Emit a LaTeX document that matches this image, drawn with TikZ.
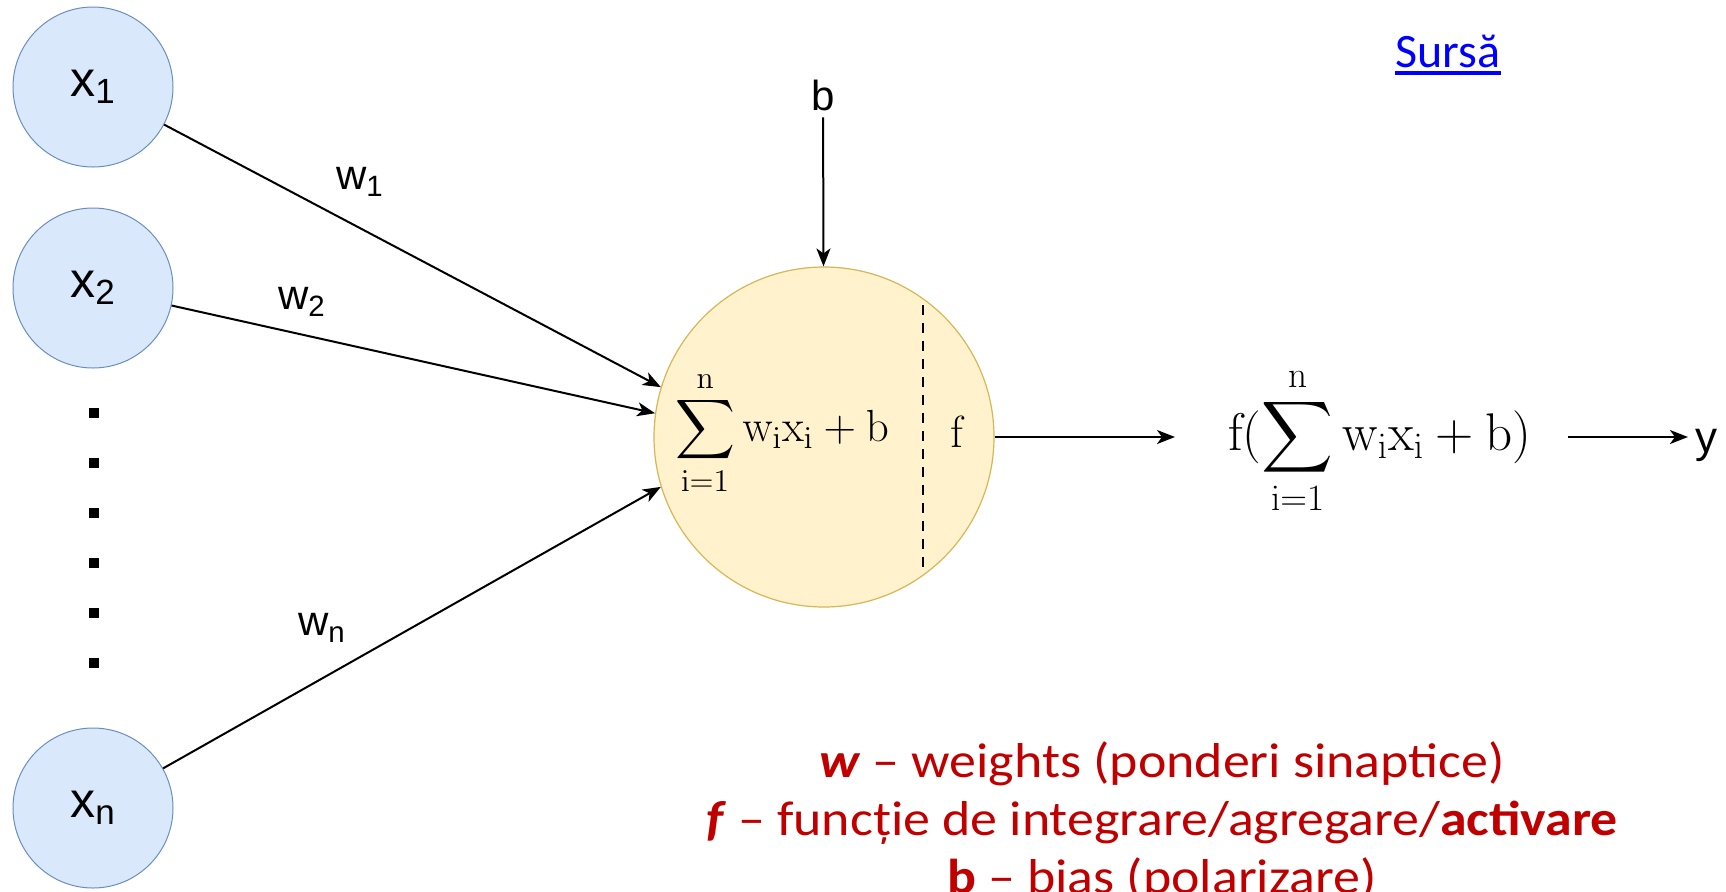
\documentclass[tikz,border=0pt]{standalone}
\usepackage{fix-cm}
\usepackage{exscale}
\usepackage[no-math]{fontspec}
\setmainfont{Liberation Sans}
\newfontfamily\calibri{Carlito}
\newfontfamily\notefont[FakeStretch=1.1]{Carlito}
\usetikzlibrary{positioning, arrows.meta}
\definecolor{inblue}{HTML}{DAE8FC}
\definecolor{inblueedge}{HTML}{6C8EBF}
\definecolor{sumfill}{HTML}{FFF2CC}
\definecolor{sumedge}{HTML}{D6B656}
\definecolor{notered}{HTML}{C00000}
\definecolor{linkblue}{HTML}{0000FF}

\tikzset{
  input/.style={circle, fill=inblue, draw=inblueedge, line width=0.5pt,
    minimum size=80pt, inner sep=0pt, font=\fontsize{25}{30}\selectfont},
  neuron/.style={circle, fill=sumfill, draw=sumedge, line width=0.6pt,
    minimum size=170pt, inner sep=0pt},
  wire/.style={line width=1pt, -{Stealth[length=9pt, width=7pt, inset=2.5pt]}},
  wlabel/.style={font=\fontsize{21}{25}\selectfont},
  note/.style={font=\notefont\fontsize{24.5}{30}\selectfont, text=notered, inner sep=0pt, anchor=base},
}

\begin{document}
\begin{tikzpicture}[x=0.5pt, y=-0.5pt]
  \useasboundingbox (0,0) rectangle (1726,891);

  % INPUTS
  \node[input] (x1) at (93,87)  {x\textsubscript{1}};
  \node[input] (x2) at (93,288) {x\textsubscript{2}};
  \node[input] (xn) at (93,808) {x\textsubscript{n}};
  % vertical dots
  \foreach \y in {413,463,...,663}
    \fill (89,\y-5) rectangle (99,\y+5);

  % NEURON: sum | f
  \node[neuron] (sum) at (824,437) {};
  \draw[line width=1pt, dash pattern=on 5pt off 4pt] (923,305) -- (923,572);
  \node[font=\fontsize{22.5}{27}\selectfont] (sumtxt) at (782,433)
    {$\displaystyle\sum_{\mathrm{i}=1}^{\mathrm{n}}\mathrm{w}_{\mathrm{i}}\mathrm{x}_{\mathrm{i}}+\mathrm{b}$};
  \node[font=\fontsize{22.5}{27}\selectfont] (act) at (958,432) {$\mathrm{f}$};

  % weighted inputs
  \draw[wire] (x1) -- (sum.163);
  \draw[wire] (x2) -- (sum.172);
  \draw[wire] (xn) -- (sum.197);
  \node[wlabel] (w1) at (360,182) {w\textsubscript{1}};
  \node[wlabel] (w2) at (302,302) {w\textsubscript{2}};
  \node[wlabel] (wn) at (322,628) {w\textsubscript{n}};

  % bias
  \node[font=\fontsize{21}{25}\selectfont] (b) at (823,95) {b};
  \draw[wire] (b) -- (sum);

  % OUTPUT
  \node[font=\fontsize{26.5}{32}\selectfont, inner xsep=8pt] (out) at (1380,441)
    {$\displaystyle\mathrm{f}(\sum_{\mathrm{i}=1}^{\mathrm{n}}\mathrm{w}_{\mathrm{i}}\mathrm{x}_{\mathrm{i}}+\mathrm{b})$};
  \node[font=\fontsize{22}{26}\selectfont, anchor=base] (yout) at (1706,452) {y};
  \draw[wire, shorten >=18.5pt] (sum.east) -- (sum.east -| out.west);
  \draw[wire, shorten <=10pt] (out.east |- sum.east) -- (yout.west |- sum.east);

  % source link
  \node[font=\calibri\fontsize{24}{29}\selectfont, text=linkblue, inner sep=0pt, anchor=base]
    (src) at (1448,67) {Sursă};
  \draw[linkblue, line width=2pt] ([yshift=-3pt]src.base west) -- ([yshift=-3pt]src.base east);

  % LEGEND
  \node[note] (lw) at (1162,777) {\textbf{\textit{w}} – weights (ponderi sinaptice)};
  \node[note] (lf) at (1162,835) {\textbf{\textit{f}} – funcție de integrare/agregare/\textbf{activare}};
  \node[note] (lb) at (1162,893) {\textbf{b} – bias (polarizare)};
\end{tikzpicture}
\end{document}
